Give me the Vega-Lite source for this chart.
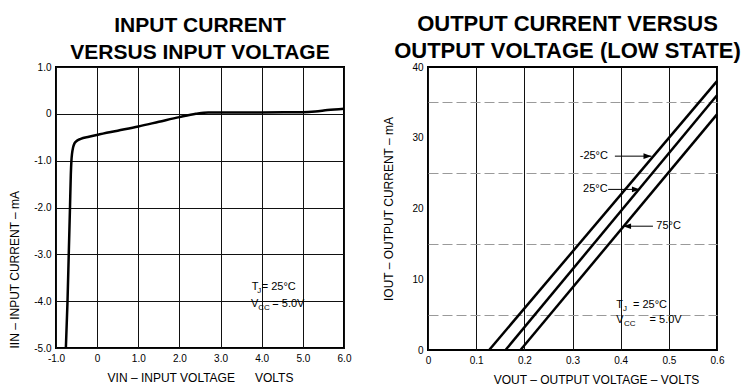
{
  "$schema": "https://vega.github.io/schema/vega-lite/v6.json",
  "background": "white",
  "padding": {"left": 7, "top": 12, "right": 5, "bottom": 5},
  "bounds": "flush",
  "spacing": 84,
  "config": {
    "font": "Liberation Sans",
    "view": {"stroke": "black", "strokeWidth": 2},
    "axis": {
      "domain": false,
      "ticks": false,
      "labelPadding": 5,
      "labelFontSize": 10,
      "labelColor": "black",
      "labelFlush": false,
      "labelOverlap": false,
      "titleFontSize": 12,
      "titleFontWeight": "normal",
      "titleColor": "black",
      "gridColor": "#111",
      "gridWidth": 1,
      "gridOpacity": 1
    },
    "title": {"fontSize": 21, "fontWeight": "bold", "color": "black", "anchor": "middle", "lineHeight": 27, "offset": -1}
  },
  "datasets": {
    "inputCurve": [
      {"vin": -0.76, "iin": -5.0},
      {"vin": -0.72, "iin": -4.0},
      {"vin": -0.69, "iin": -3.0},
      {"vin": -0.66, "iin": -2.0},
      {"vin": -0.64, "iin": -1.3},
      {"vin": -0.625, "iin": -1.0},
      {"vin": -0.61, "iin": -0.85},
      {"vin": -0.585, "iin": -0.72},
      {"vin": -0.55, "iin": -0.63},
      {"vin": -0.5, "iin": -0.58},
      {"vin": -0.4, "iin": -0.535},
      {"vin": -0.2, "iin": -0.49},
      {"vin": 0.0, "iin": -0.45},
      {"vin": 0.5, "iin": -0.36},
      {"vin": 1.0, "iin": -0.27},
      {"vin": 1.5, "iin": -0.17},
      {"vin": 2.0, "iin": -0.07},
      {"vin": 2.4, "iin": 0.0},
      {"vin": 2.7, "iin": 0.03},
      {"vin": 3.0, "iin": 0.03},
      {"vin": 4.0, "iin": 0.03},
      {"vin": 5.0, "iin": 0.035},
      {"vin": 5.3, "iin": 0.05},
      {"vin": 5.6, "iin": 0.08},
      {"vin": 6.0, "iin": 0.11}
    ],
    "leftNote": [
      {"x": 3.757, "y": -3.76, "text": "T", "role": "main"},
      {"x": 3.89, "y": -3.76, "text": "J", "role": "sub"},
      {"x": 4.0, "y": -3.76, "text": "= 25°C", "role": "main"},
      {"x": 3.74, "y": -4.12, "text": "V", "role": "main"},
      {"x": 3.917, "y": -4.12, "text": "CC", "role": "sub"},
      {"x": 4.258, "y": -4.12, "text": "= 5.0V", "role": "main"}
    ],
    "outputLines": [
      {"temp": "-25°C", "vout": 0.127, "iout": 0},
      {"temp": "-25°C", "vout": 0.6, "iout": 38},
      {"temp": "25°C", "vout": 0.161, "iout": 0},
      {"temp": "25°C", "vout": 0.6, "iout": 36},
      {"temp": "75°C", "vout": 0.192, "iout": 0},
      {"temp": "75°C", "vout": 0.6, "iout": 33.3}
    ],
    "arrows": [
      {"label": "-25°C", "tx": 0.315, "y": 27.4, "x1": 0.388, "x2": 0.464, "tip": 0.464, "dir": "r"},
      {"label": "25°C", "tx": 0.322, "y": 22.7, "x1": 0.374, "x2": 0.44, "tip": 0.44, "dir": "r"},
      {"label": "75°C", "tx": 0.474, "y": 17.5, "x1": 0.405, "x2": 0.467, "tip": 0.405, "dir": "l"}
    ],
    "rightNote": [
      {"x": 0.391, "y": 5.89, "text": "T", "role": "main"},
      {"x": 0.405, "y": 5.89, "text": "J", "role": "sub"},
      {"x": 0.4256, "y": 5.89, "text": "= 25°C", "role": "main"},
      {"x": 0.391, "y": 3.86, "text": "V", "role": "main"},
      {"x": 0.407, "y": 3.86, "text": "CC", "role": "sub"},
      {"x": 0.46, "y": 3.86, "text": "= 5.0V", "role": "main"}
    ]
  },
  "hconcat": [
    {
      "width": 288,
      "height": 281,
      "title": {"text": ["INPUT CURRENT", "VERSUS INPUT VOLTAGE"], "fontSize": 21},
      "layer": [
        {
          "data": {"name": "inputCurve"},
          "mark": {"type": "line", "color": "black", "strokeWidth": 2.5, "interpolate": "monotone"},
          "encoding": {
            "x": {
              "field": "vin", "type": "quantitative",
              "scale": {"domain": [-1, 6], "nice": false, "zero": false},
              "axis": {
                "values": [-1, 0, 1, 2, 3, 4, 5, 6],
                "labelExpr": "datum.value == 0 ? '0' : (datum.value < 0 ? '-' : '') + format(abs(datum.value), '.1f')",
                "title": "VIN – INPUT VOLTAGE\u00a0\u00a0\u00a0\u00a0\u00a0\u00a0VOLTS",
                "titlePadding": 9
              }
            },
            "y": {
              "field": "iin", "type": "quantitative",
              "scale": {"domain": [-5, 1], "nice": false, "zero": false},
              "axis": {
                "values": [-5, -4, -3, -2, -1, 0, 1],
                "labelExpr": "datum.value == 0 ? '0' : (datum.value < 0 ? '-' : '') + format(abs(datum.value), '.1f')",
                "title": "IIN – INPUT CURRENT – mA",
                "titleAnchor": "start",
                "titlePadding": 12
              }
            }
          }
        },
        {
          "data": {"name": "leftNote"},
          "transform": [{"filter": "datum.role == 'main'"}],
          "mark": {"type": "text", "align": "left", "baseline": "alphabetic", "fontSize": 11, "color": "black"},
          "encoding": {
            "x": {"field": "x", "type": "quantitative"},
            "y": {"field": "y", "type": "quantitative"},
            "text": {"field": "text"}
          }
        },
        {
          "data": {"name": "leftNote"},
          "transform": [{"filter": "datum.role == 'sub'"}],
          "mark": {"type": "text", "align": "left", "baseline": "alphabetic", "fontSize": 8, "dy": 3, "color": "black"},
          "encoding": {
            "x": {"field": "x", "type": "quantitative"},
            "y": {"field": "y", "type": "quantitative"},
            "text": {"field": "text"}
          }
        }
      ]
    },
    {
      "width": 289,
      "height": 283,
      "title": {"text": ["OUTPUT CURRENT VERSUS", "OUTPUT VOLTAGE (LOW STATE)"], "fontSize": 22, "dx": -5},
      "resolve": {"axis": {"y": "independent"}},
      "layer": [
        {
          "data": {"name": "arrows"},
          "mark": {"type": "rule", "color": "black", "strokeWidth": 1},
          "encoding": {
            "x": {"field": "x1", "type": "quantitative", "scale": {"domain": [0, 0.6], "nice": false}},
            "x2": {"field": "x2"},
            "y": {
              "field": "y", "type": "quantitative",
              "scale": {"domain": [0, 40], "nice": false},
              "axis": {
                "orient": "left",
                "values": [5, 15, 25, 35],
                "labels": false,
                "title": null,
                "gridColor": "#9a9a9a",
                "gridDash": [10, 4],
                "gridWidth": 1
              }
            }
          }
        },
        {
          "data": {"name": "outputLines"},
          "mark": {"type": "line", "color": "black", "strokeWidth": 2.5},
          "encoding": {
            "x": {
              "field": "vout", "type": "quantitative",
              "scale": {"domain": [0, 0.6], "nice": false},
              "axis": {
                "values": [0, 0.1, 0.2, 0.3, 0.4, 0.5, 0.6],
                "labelExpr": "datum.value == 0 ? '0' : format(datum.value, '.1f')",
                "title": "VOUT – OUTPUT VOLTAGE – VOLTS",
                "titleX": 168,
                "titlePadding": 9
              }
            },
            "y": {
              "field": "iout", "type": "quantitative",
              "scale": {"domain": [0, 40], "nice": false},
              "axis": {
                "orient": "left",
                "values": [0, 10, 20, 30, 40],
                "title": "IOUT – OUTPUT CURRENT – mA",
                "titlePadding": 16
              }
            },
            "detail": {"field": "temp"}
          }
        },
        {
          "data": {"name": "arrows"},
          "mark": {"type": "point", "filled": true, "color": "black", "opacity": 1, "size": 64},
          "encoding": {
            "x": {"field": "tip", "type": "quantitative"},
            "y": {"field": "y", "type": "quantitative", "axis": null},
            "shape": {"field": "dir", "type": "nominal", "scale": {"domain": ["r", "l"], "range": ["M0,0L-2,-0.7L-2,0.7Z", "M0,0L2,-0.7L2,0.7Z"]}, "legend": null}
          }
        },
        {
          "data": {"name": "arrows"},
          "mark": {"type": "text", "align": "left", "baseline": "middle", "fontSize": 11, "color": "black"},
          "encoding": {
            "x": {"field": "tx", "type": "quantitative"},
            "y": {"field": "y", "type": "quantitative", "axis": null},
            "text": {"field": "label"}
          }
        },
        {
          "data": {"name": "rightNote"},
          "transform": [{"filter": "datum.role == 'main'"}],
          "mark": {"type": "text", "align": "left", "baseline": "alphabetic", "fontSize": 11, "color": "black"},
          "encoding": {
            "x": {"field": "x", "type": "quantitative"},
            "y": {"field": "y", "type": "quantitative", "axis": null},
            "text": {"field": "text"}
          }
        },
        {
          "data": {"name": "rightNote"},
          "transform": [{"filter": "datum.role == 'sub'"}],
          "mark": {"type": "text", "align": "left", "baseline": "alphabetic", "fontSize": 8, "dy": 3, "color": "black"},
          "encoding": {
            "x": {"field": "x", "type": "quantitative"},
            "y": {"field": "y", "type": "quantitative", "axis": null},
            "text": {"field": "text"}
          }
        }
      ]
    }
  ]
}
